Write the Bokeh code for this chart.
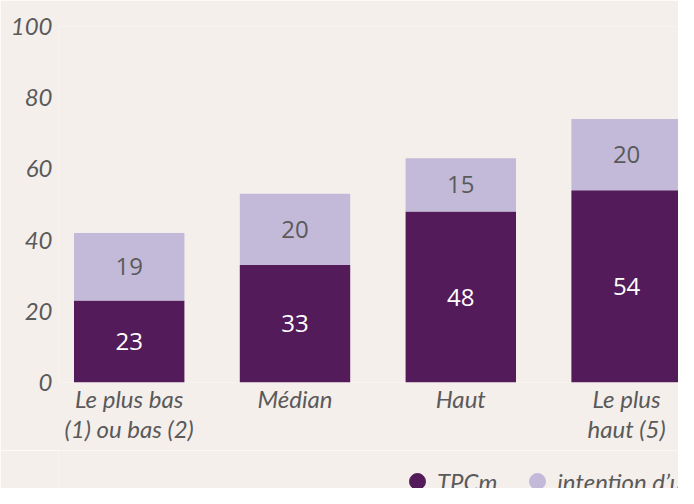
from bokeh.plotting import figure
from bokeh.layouts import column
from bokeh.models import Range1d, FixedTicker, Legend, LegendItem, ColumnDataSource
from bokeh.core.properties import value
from bokeh.embed import file_html
from bokeh.resources import INLINE

# ---- data ----
categories = ["Le plus bas\n(1) ou bas (2)", "Médian", "Haut", "Le plus\nhaut (5)"]
tpcm = [23, 33, 48, 54]
intention = [19, 20, 15, 20]
series_names = ["TPCm", "intention d\u2019utiliser"]
y_ticks = [0, 20, 40, 60, 80, 100]

# ---- styles ----
DARK = "#541B5A"
LIGHT = "#C3BAD9"
BG = "#F5EFEC"
GREY = "#5A5A5A"

xs = list(range(len(categories)))
tops = [a + b for a, b in zip(tpcm, intention)]
src = ColumnDataSource(dict(
    x=xs,
    tpcm=tpcm,
    top=tops,
    mid_dark=[v / 2 for v in tpcm],
    mid_light=[a + b / 2 for a, b in zip(tpcm, intention)],
    lab_dark=[str(v) for v in tpcm],
    lab_light=[str(v) for v in intention],
))

p = figure(
    width=678, height=450,
    output_backend="svg", toolbar_location=None,
    x_range=Range1d(-0.4264, 3.3130), y_range=Range1d(0, 100),
    min_border_left=58, min_border_right=0, min_border_top=26, min_border_bottom=68,
    background_fill_color=BG, border_fill_color=BG, outline_line_color=None,
)

BAR_W = 0.666
p.vbar(x="x", bottom=0, top="tpcm", width=BAR_W, fill_color=DARK, line_color=None, source=src)
p.vbar(x="x", bottom="tpcm", top="top", width=BAR_W, fill_color=LIGHT, line_color=None, source=src)

p.text(x="x", y="mid_dark", text="lab_dark", text_color="white",
       text_font=value("Open Sans"), text_font_size="24px",
       text_align="center", text_baseline="middle", source=src)
p.text(x="x", y="mid_light", text="lab_light", text_color=GREY,
       text_font=value("Open Sans"), text_font_size="24px",
       text_align="center", text_baseline="middle", source=src)

# axes
for ax in (p.xaxis, p.yaxis):
    ax.axis_line_color = None
    ax.major_tick_line_color = None
    ax.minor_tick_line_color = None
    ax.major_tick_in = 0
    ax.major_tick_out = 0
    ax.major_label_text_font = "Lato"
    ax.major_label_text_font_style = "italic"
    ax.major_label_text_font_size = "24px"
    ax.major_label_text_color = GREY

p.xaxis.ticker = FixedTicker(ticks=xs)
p.xaxis.major_label_overrides = {i: c for i, c in zip(xs, categories)}
p.xaxis.major_label_standoff = 1
p.xaxis.major_label_text_line_height = 1.05
p.yaxis.ticker = FixedTicker(ticks=y_ticks)
p.yaxis.major_label_standoff = 6
p.xgrid.grid_line_color = None
p.ygrid.grid_line_color = None

# ---- legend strip ----
lg = figure(
    width=678, height=38,
    output_backend="svg", toolbar_location=None,
    x_range=Range1d(0, 1), y_range=Range1d(0, 1),
    x_axis_location=None, y_axis_location=None,
    min_border_left=58, min_border_right=0, min_border_top=0, min_border_bottom=0,
    background_fill_color=BG, border_fill_color=BG, outline_line_color=None,
)
lg.xgrid.grid_line_color = None
lg.ygrid.grid_line_color = None
nan = float("nan")
r1 = lg.scatter(x=[nan], y=[nan], marker="circle", size=16, fill_color=DARK, line_color=DARK)
r2 = lg.scatter(x=[nan], y=[nan], marker="circle", size=16, fill_color=LIGHT, line_color=LIGHT)
legend = Legend(
    items=[LegendItem(label=series_names[0], renderers=[r1]),
           LegendItem(label=series_names[1], renderers=[r2])],
    location=(339, -13), orientation="horizontal",
    padding=0, margin=0, spacing=20, label_standoff=0,
    glyph_width=40, glyph_height=40,
    border_line_color=None, background_fill_alpha=0,
    label_text_font="Lato", label_text_font_style="italic",
    label_text_font_size="24px", label_text_color=GREY,
)
lg.add_layout(legend)

layout = column(p, lg, spacing=0)
open("out.html", "w").write(file_html(layout, INLINE))
